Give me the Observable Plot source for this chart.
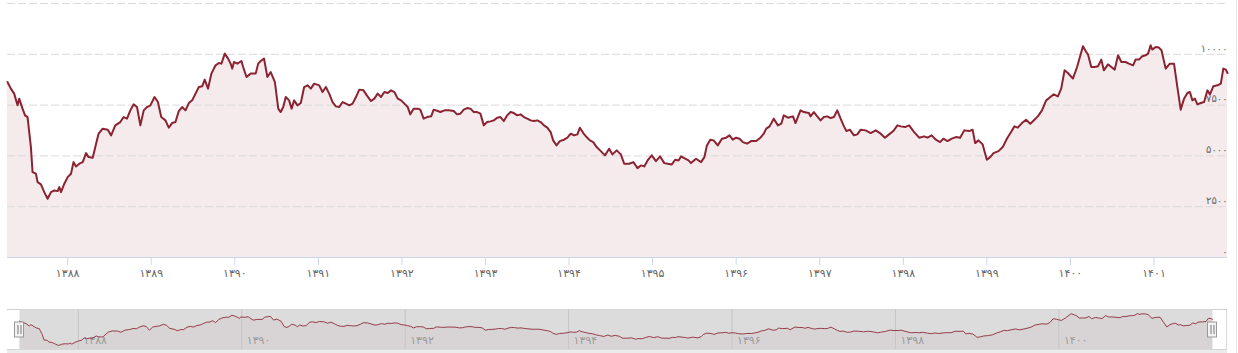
<!DOCTYPE html>
<html><head><meta charset="utf-8">
<script src="https://cdn.jsdelivr.net/npm/d3@7"></script>
<script src="https://cdn.jsdelivr.net/npm/@observablehq/plot@0.6"></script>
<style>
body{margin:0;background:#fff;}
#wrap{position:relative;width:1238px;height:353px;overflow:hidden;font-family:"DejaVu Sans",sans-serif;}
#main,#nav{position:absolute;left:0;}
#main{top:0}
#nav{top:300px}
.navbox{position:absolute;left:7px;top:309px;width:1220px;height:40px;border-top:1px solid #cfcfcf;border-right:1px solid #dcdcdc;box-sizing:border-box}
.scroll{position:absolute;left:7px;top:349px;width:1220px;height:4px;background:#ebebeb;border-top:1px solid #d4d4d4;box-sizing:border-box}
.edge{position:absolute;left:1236px;top:0;width:1px;height:353px;background:#e6e6e6}
</style>
</head><body>
<div id="wrap"><div class="navbox"></div><div class="scroll"></div><div class="edge"></div><div id="main"></div><div id="nav"></div></div>
<script>
// Persian (solar hijri) year positions, fractional
const years = [1387.28,1387.32,1387.36,1387.40,1387.42,1387.46,1387.49,1387.52,1387.56,1387.58,1387.62,1387.64,1387.68,1387.72,1387.76,1387.80,1387.84,1387.88,1387.90,1387.92,1387.96,
1388.00,1388.04,1388.07,1388.10,1388.14,1388.18,1388.22,1388.25,1388.30,1388.34,1388.37,1388.42,1388.48,1388.52,1388.57,1388.63,1388.67,1388.71,1388.75,1388.79,1388.83,1388.87,1388.91,1388.95,1388.99,
1389.04,1389.08,1389.12,1389.17,1389.21,1389.25,1389.29,1389.33,1389.37,1389.41,1389.45,1389.49,1389.53,1389.57,1389.61,1389.64,1389.68,1389.72,1389.77,1389.81,1389.84,1389.88,1389.92,1389.95,1389.97,1389.99,
1390.03,1390.08,1390.10,1390.14,1390.19,1390.25,1390.28,1390.31,1390.35,1390.39,1390.43,1390.48,1390.52,1390.55,1390.58,1390.61,1390.65,1390.68,1390.71,1390.75,1390.79,1390.83,1390.87,1390.91,1390.95,
1391.01,1391.05,1391.09,1391.13,1391.17,1391.21,1391.25,1391.29,1391.33,1391.37,1391.41,1391.45,1391.49,1391.54,1391.58,1391.63,1391.67,1391.71,1391.75,1391.79,1391.83,1391.87,1391.91,1391.95,1391.99,
1392.03,1392.07,1392.10,1392.14,1392.19,1392.22,1392.26,1392.30,1392.35,1392.38,1392.43,1392.46,1392.51,1392.56,1392.62,1392.66,1392.70,1392.74,1392.78,1392.82,1392.86,1392.90,1392.94,1392.98,
1393.02,1393.06,1393.10,1393.14,1393.18,1393.22,1393.26,1393.30,1393.34,1393.38,1393.42,1393.46,1393.50,1393.54,1393.58,1393.62,1393.66,1393.70,1393.74,1393.78,1393.81,1393.85,1393.89,1393.94,1393.98,
1394.02,1394.06,1394.10,1394.13,1394.17,1394.21,1394.25,1394.29,1394.33,1394.38,1394.43,1394.48,1394.52,1394.57,1394.62,1394.66,1394.72,1394.77,1394.82,1394.86,1394.90,1394.94,1394.99,
1395.04,1395.09,1395.14,1395.18,1395.23,1395.27,1395.31,1395.34,1395.39,1395.43,1395.46,1395.52,1395.58,1395.62,1395.65,1395.69,1395.73,1395.78,1395.83,1395.88,1395.92,1395.96,
1396.00,1396.04,1396.08,1396.13,1396.18,1396.24,1396.29,1396.33,1396.36,1396.40,1396.45,1396.50,1396.54,1396.57,1396.62,1396.68,1396.71,1396.77,1396.81,1396.87,1396.89,1396.93,1396.97,
1397.01,1397.05,1397.09,1397.13,1397.17,1397.21,1397.25,1397.29,1397.32,1397.36,1397.41,1397.45,1397.49,1397.55,1397.61,1397.67,1397.73,1397.78,1397.83,1397.88,1397.93,1397.97,
1398.02,1398.07,1398.13,1398.19,1398.25,1398.29,1398.34,1398.39,1398.44,1398.48,1398.53,1398.58,1398.63,1398.68,1398.73,1398.79,1398.83,1398.86,1398.90,1398.95,
1399.00,1399.04,1399.08,1399.14,1399.19,1399.24,1399.29,1399.33,1399.37,1399.42,1399.47,1399.52,1399.57,1399.61,1399.66,1399.71,1399.76,1399.80,1399.85,1399.89,1399.93,1399.97,
1400.03,1400.08,1400.15,1400.19,1400.21,1400.25,1400.29,1400.33,1400.37,1400.40,1400.45,1400.49,1400.53,1400.57,1400.61,1400.66,1400.70,1400.75,1400.78,1400.82,1400.86,1400.90,1400.93,1400.96,1400.98,
1401.02,1401.06,1401.09,1401.14,1401.19,1401.24,1401.28,1401.32,1401.36,1401.40,1401.43,1401.46,1401.49,1401.52,1401.56,1401.60,1401.64,1401.67,1401.71,1401.76,1401.80,1401.83,1401.86,1401.88];

const values = [8635,8310,8064,7488,7817,7325,6995,6911,5434,4202,4123,3709,3596,3217,2891,3217,3300,3267,3464,3217,3630,
3956,4123,4694,4483,4615,4694,5138,4941,4911,5601,6093,6340,6291,6010,6502,6665,6911,6833,7241,7537,7404,6502,7241,7404,7488,
7896,7650,6911,6749,6389,6616,6665,7207,7404,7241,7601,7734,8064,8389,8424,8754,8310,9049,9458,9571,9541,10034,9788,9541,9295,9621,
9541,9670,9374,8882,9049,9049,9541,9670,9788,8882,9128,8635,7325,7158,7404,7896,7734,7325,7734,7488,7601,8389,8473,8310,8556,
8473,8143,8389,8064,7650,7438,7404,7650,7571,7488,7571,7896,8261,8226,7980,7699,7817,8064,7896,8143,8093,8226,8143,7817,7734,
7571,7404,7044,7325,7325,7276,6833,6911,6946,7276,7207,7158,7241,7241,7207,7044,7079,7276,7355,7325,7158,7158,7079,6502,
6665,6700,6749,6882,6911,6714,6995,7158,7108,6995,7044,6911,6833,6749,6714,6749,6665,6502,6389,6172,5763,5517,5729,5798,5896,
6093,6010,6059,6389,6123,5926,5763,5680,5434,5236,5025,5355,5074,5271,5074,4615,4615,4694,4399,4532,4483,4778,5025,
4744,4975,4645,4615,4581,4812,4778,4975,4862,4778,4645,4862,4694,4941,5517,5798,5763,5517,5847,5896,6010,5798,
5896,5847,5680,5601,5729,5729,5896,6093,6340,6453,6833,6502,6586,6995,6882,6946,6616,7241,7158,7108,6946,7158,6946,
6749,6911,6946,6862,6911,7241,6833,6453,6222,6291,6010,6059,6291,6256,6123,6256,6093,5896,6059,6222,6502,6453,
6419,6502,6172,5896,5961,5896,6010,5798,5680,5847,5729,5847,5926,5896,6256,6222,6291,5630,5763,5566,
4812,4941,5138,5236,5434,5847,6172,6453,6389,6616,6783,6586,6783,6946,7241,7734,7896,8029,7931,8310,9211,9079,
8803,9374,10394,10113,10000,9374,9374,9409,9738,9211,9507,9374,9246,9951,9621,9621,9541,9458,9738,9738,9901,9951,10034,10443,10232,
10360,10330,10197,9295,9541,9541,8389,7276,7817,8093,8143,7734,7817,7537,7601,7650,8226,8029,8424,8473,8556,9295,9246,9079];

const xTicks = [1388,1389,1390,1391,1392,1393,1394,1395,1396,1397,1398,1399,1400,1401];
const yGrid = [0,2500,5000,7500,10000,12500];
const yLabels = [0,2500,5000,7500,10000];
const navTicks = [1388,1390,1392,1394,1396,1398,1400];

const fa = n => String(n).replace(/\d/g, d => "۰۱۲۳۴۵۶۷۸۹"[+d]);
const data = years.map((t, i) => ({t, v: values[i]}));
const font = {fontFamily: "'DejaVu Sans', sans-serif", background: "transparent", overflow: "visible"};

const main = Plot.plot({
  width: 1238, height: 300,
  marginLeft: 7, marginRight: 11, marginTop: 3, marginBottom: 43,
  style: font,
  x: {domain: d3.extent(years), label: null},
  y: {domain: [0, 12500], axis: null, label: null},
  marks: [
    Plot.areaY(data, {x: "t", y: "v", fill: "#8b1e2d", fillOpacity: 0.09}),
    Plot.gridY(yGrid, {stroke: "#dadada", strokeOpacity: 1, strokeDasharray: "8,3"}),
    Plot.text(yLabels, {y: d => d, frameAnchor: "right", textAnchor: "end", dy: -6, text: fa, fill: "#666", fontSize: 10}),
    Plot.axisX(xTicks, {tickSize: 8, tickPadding: 4, tickFormat: fa, stroke: "#ccd6eb", fill: "#666", fontSize: 11, label: null}),
    Plot.ruleY([0], {stroke: "#ccd6eb"}),
    Plot.lineY(data, {x: "t", y: "v", stroke: "#8b2332", strokeWidth: 2})
  ]
});
document.getElementById("main").appendChild(main);

const [lo0, hi0] = d3.extent(values);
const pad = (hi0 - lo0) * 0.125;
const ends = d3.extent(years);
const nav = Plot.plot({
  width: 1238, height: 53,
  marginLeft: 19, marginRight: 26, marginTop: 9, marginBottom: 4,
  style: font,
  x: {domain: ends, axis: null},
  y: {domain: [lo0 - pad, hi0 + pad], axis: null},
  marks: [
    Plot.frame({fill: "#dcdcdc", stroke: "none"}),
    Plot.areaY(data, {x: "t", y1: lo0 - pad, y2: "v", fill: "#8b1e2d", fillOpacity: 0.04}),
    Plot.gridX(navTicks, {stroke: "#c6c6c6", strokeOpacity: 1}),
    Plot.text(navTicks, {x: d => d, frameAnchor: "bottom", textAnchor: "start", dx: 5, dy: -6, text: fa, fill: "#9a9a9a", fontSize: 11}),
    Plot.lineY(data, {x: "t", y: "v", stroke: "#8b2332", strokeWidth: 1, strokeOpacity: 0.85}),
    Plot.rect(ends, {x1: d => d, x2: d => d, insetLeft: -4.5, insetRight: -4.5, insetTop: 13, insetBottom: 12, fill: "#f2f2f2", stroke: "#999"}),
    Plot.ruleX(ends, {x: d => d, dx: -1.5, insetTop: 16, insetBottom: 15, stroke: "#777"}),
    Plot.ruleX(ends, {x: d => d, dx: 1.5, insetTop: 16, insetBottom: 15, stroke: "#777"})
  ]
});
document.getElementById("nav").appendChild(nav);
</script>
</body></html>
